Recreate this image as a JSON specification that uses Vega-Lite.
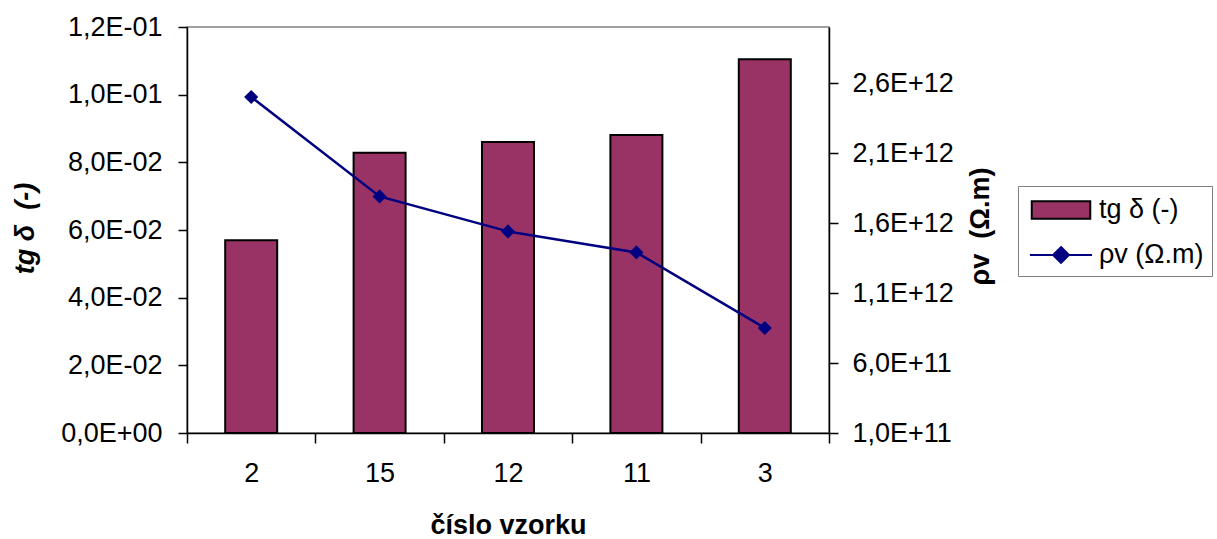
{
  "$schema": "https://vega.github.io/schema/vega-lite/v6.json",
  "width": 642,
  "height": 406,
  "autosize": {"type": "none"},
  "padding": {"left": 187, "top": 27, "right": 388, "bottom": 106},
  "background": "white",
  "config": {
    "font": "Liberation Sans",
    "view": {"stroke": "#808080", "strokeWidth": 1.5},
    "axis": {
      "labelFont": "Liberation Sans",
      "labelFontSize": 27,
      "labelColor": "black",
      "titleFont": "Liberation Sans",
      "titleFontSize": 27,
      "titleFontWeight": "bold",
      "titleColor": "black",
      "domainColor": "black",
      "domainWidth": 1.5,
      "tickColor": "black",
      "tickWidth": 1.5,
      "grid": false
    }
  },
  "data": {
    "values": [
      {"sample": "2", "tg": 0.0570, "rho": 2.50e12},
      {"sample": "15", "tg": 0.0828, "rho": 1.79e12},
      {"sample": "12", "tg": 0.0860, "rho": 1.54e12},
      {"sample": "11", "tg": 0.0881, "rho": 1.39e12},
      {"sample": "3", "tg": 0.1105, "rho": 8.5e11}
    ]
  },
  "encoding": {
    "x": {
      "field": "sample",
      "type": "nominal",
      "sort": null,
      "scale": {"paddingInner": 0, "paddingOuter": 0},
      "axis": {
        "title": "číslo vzorku",
        "labelAngle": 0,
        "tickBand": "extent",
        "tickSize": 10,
        "labelPadding": 17,
        "titleY": 100,
        "titleBaseline": "alphabetic"
      }
    }
  },
  "layer": [
    {
      "encoding": {
        "y": {
          "field": "tg",
          "type": "quantitative",
          "scale": {"domain": [0, 0.12], "nice": false, "zero": true},
          "axis": {
            "orient": "left",
            "values": [0, 0.02, 0.04, 0.06, 0.08, 0.1, 0.12],
            "labelExpr": "replace(split(format(datum.value,'.1e'),'e')[0],'.',',') + 'E' + (toNumber(split(format(datum.value,'.1e'),'e')[1]) < 0 ? '-' : '+') + (abs(toNumber(split(format(datum.value,'.1e'),'e')[1])) < 10 ? '0' : '') + abs(toNumber(split(format(datum.value,'.1e'),'e')[1]))",
            "tickSize": 9,
            "labelPadding": 16,
            "title": "tg δ \u00a0(-)",
            "titleFontStyle": "italic",
            "titleAngle": -90,
            "titleX": -162,
            "titleY": 201,
            "titleAlign": "center",
            "titleBaseline": "middle",
            "encode": {"ticks": {"x": {"value": 9}}}
          }
        }
      },
      "layer": [
        {
          "mark": {"type": "bar", "width": {"band": 0.405}},
          "encoding": {
            "color": {
              "datum": "tg δ (-)",
              "type": "nominal",
              "scale": {"domain": ["tg δ (-)", "ρv (Ω.m)"], "range": ["#993366", "#000080"]},
              "legend": {
                "orient": "none",
                "legendX": 831,
                "legendY": 159,
                "title": null,
                "direction": "vertical",
                "strokeColor": "#808080",
                "fillColor": "white",
                "padding": 8,
                "labelFont": "Liberation Sans",
                "labelFontSize": 27,
                "labelColor": "black",
                "symbolSize": 900,
                "symbolOffset": 19,
                "rowPadding": 16,
                "labelOffset": 22,
                "symbolOpacity": 1,
                "symbolStrokeWidth": 2,
                "symbolType": {"expr": "datum.value === 'tg δ (-)' ? 'M-1.95,-0.58H1.95V0.58H-1.95Z' : 'M-2.07,0H2.07M0,-0.53L0.53,0L0,0.53L-0.53,0Z'"},
                "symbolStrokeColor": {"expr": "datum.value === 'tg δ (-)' ? 'black' : '#000080'"}
              }
            }
          }
        },
        {
          "mark": {"type": "bar", "width": {"band": 0.405}, "fill": "transparent", "stroke": "black", "strokeWidth": 2}
        }
      ]
    },
    {
      "mark": {"type": "line", "color": "#000080", "strokeWidth": 2.5, "point": {"filled": true, "shape": "diamond", "size": 200, "color": "#000080", "opacity": 1}},
      "encoding": {
        "y": {
          "field": "rho",
          "type": "quantitative",
          "scale": {"domain": [1e11, 3e12], "nice": false, "zero": false},
          "axis": {
            "orient": "right",
            "values": [1e11, 6e11, 1.1e12, 1.6e12, 2.1e12, 2.6e12],
            "labelExpr": "replace(split(format(datum.value,'.1e'),'e')[0],'.',',') + 'E' + (toNumber(split(format(datum.value,'.1e'),'e')[1]) < 0 ? '-' : '+') + (abs(toNumber(split(format(datum.value,'.1e'),'e')[1])) < 10 ? '0' : '') + abs(toNumber(split(format(datum.value,'.1e'),'e')[1]))",
            "tickSize": 9,
            "labelPadding": 14,
            "title": "ρv \u00a0(Ω.m)",
            "titleAngle": -90,
            "titleX": 151,
            "titleY": 199,
            "titleAlign": "center",
            "titleBaseline": "middle",
            "encode": {"ticks": {"x": {"value": -9}}}
          }
        }
      }
    }
  ],
  "resolve": {"scale": {"y": "independent"}}
}
